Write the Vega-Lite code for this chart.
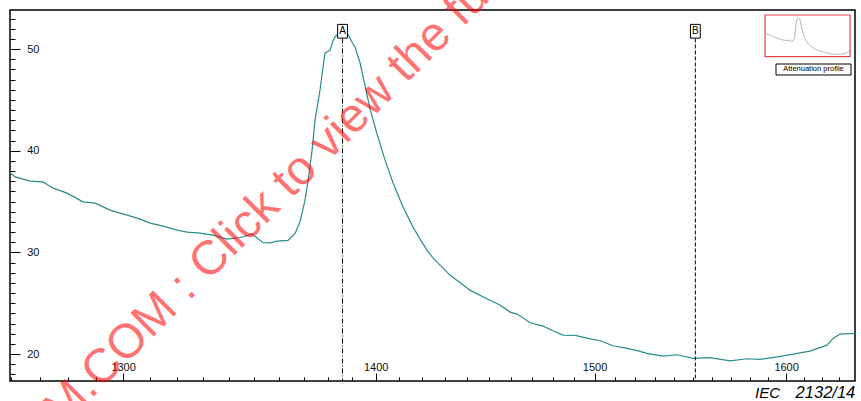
{
  "$schema": "https://vega.github.io/schema/vega-lite/v6.json",
  "width": 845,
  "height": 371,
  "autosize": "none",
  "padding": {"left": 10, "top": 10, "right": 6, "bottom": 20},
  "background": "white",
  "config": {
    "view": {"stroke": "#000", "strokeWidth": 1.5},
    "axis": {"grid": false, "domain": false, "tickColor": "#000", "tickWidth": 1, "labelFont": "Liberation Sans", "labelFontSize": 11, "labelColor": "#111", "title": null, "format": "d"}
  },
  "datasets": {
    "trace": [
      {"wl": 1259.7, "db": 37.83}, {"wl": 1261.5, "db": 37.43}, {"wl": 1266.7, "db": 37.01}, {"wl": 1271.2, "db": 36.94},
      {"wl": 1274.8, "db": 36.32}, {"wl": 1279.7, "db": 35.83}, {"wl": 1285.4, "db": 34.98}, {"wl": 1289.8, "db": 34.85},
      {"wl": 1295.2, "db": 34.16}, {"wl": 1301.5, "db": 33.67}, {"wl": 1306.3, "db": 33.27}, {"wl": 1310.0, "db": 32.88},
      {"wl": 1314.9, "db": 32.59}, {"wl": 1320.2, "db": 32.19}, {"wl": 1324.0, "db": 32.0}, {"wl": 1328.9, "db": 31.9},
      {"wl": 1333.9, "db": 31.7}, {"wl": 1339.4, "db": 31.31}, {"wl": 1344.5, "db": 31.47}, {"wl": 1349.2, "db": 31.8},
      {"wl": 1353.6, "db": 30.96}, {"wl": 1356.4, "db": 30.94}, {"wl": 1359.2, "db": 31.11}, {"wl": 1363.6, "db": 31.18},
      {"wl": 1366.5, "db": 31.9}, {"wl": 1368.5, "db": 33.08}, {"wl": 1370.5, "db": 35.14}, {"wl": 1371.8, "db": 37.11},
      {"wl": 1373.4, "db": 40.06}, {"wl": 1374.6, "db": 43.01}, {"wl": 1376.7, "db": 46.06}, {"wl": 1378.7, "db": 49.6},
      {"wl": 1380.0, "db": 49.79}, {"wl": 1380.8, "db": 49.89}, {"wl": 1382.1, "db": 50.88}, {"wl": 1382.9, "db": 51.22},
      {"wl": 1384.1, "db": 51.47}, {"wl": 1386.2, "db": 51.69}, {"wl": 1388.3, "db": 51.47}, {"wl": 1390.0, "db": 50.68},
      {"wl": 1391.3, "db": 50.19}, {"wl": 1393.4, "db": 48.61}, {"wl": 1395.5, "db": 46.35}, {"wl": 1397.6, "db": 44.09},
      {"wl": 1400.6, "db": 41.63}, {"wl": 1404.0, "db": 39.08}, {"wl": 1407.5, "db": 36.81}, {"wl": 1411.8, "db": 34.45},
      {"wl": 1416.1, "db": 32.49}, {"wl": 1419.2, "db": 31.31}, {"wl": 1422.2, "db": 30.23}, {"wl": 1424.9, "db": 29.44},
      {"wl": 1432.4, "db": 27.77}, {"wl": 1441.4, "db": 26.29}, {"wl": 1449.2, "db": 25.41}, {"wl": 1455.1, "db": 24.82},
      {"wl": 1459.7, "db": 24.13}, {"wl": 1463.0, "db": 23.93}, {"wl": 1469.1, "db": 23.08}, {"wl": 1475.2, "db": 22.75},
      {"wl": 1479.9, "db": 22.29}, {"wl": 1484.7, "db": 21.87}, {"wl": 1490.5, "db": 21.84}, {"wl": 1496.3, "db": 21.57},
      {"wl": 1502.7, "db": 21.31}, {"wl": 1509.1, "db": 20.82}, {"wl": 1516.1, "db": 20.56}, {"wl": 1521.6, "db": 20.32},
      {"wl": 1526.1, "db": 20.07}, {"wl": 1534.3, "db": 19.8}, {"wl": 1541.5, "db": 19.93}, {"wl": 1549.8, "db": 19.58},
      {"wl": 1558.7, "db": 19.64}, {"wl": 1569.4, "db": 19.34}, {"wl": 1578.5, "db": 19.54}, {"wl": 1585.6, "db": 19.48},
      {"wl": 1595.0, "db": 19.73}, {"wl": 1603.9, "db": 20.0}, {"wl": 1613.4, "db": 20.29}, {"wl": 1623.1, "db": 20.88},
      {"wl": 1626.6, "db": 21.54}, {"wl": 1630.6, "db": 21.97}, {"wl": 1639.3, "db": 22.04}
    ],
    "markers": [
      {"wl": 1386, "label": "A"},
      {"wl": 1551, "label": "B"}
    ]
  },
  "layer": [
    {
      "layer": [
        {
          "data": {"name": "trace"},
          "mark": {"type": "line", "color": "#2a8c8c", "strokeWidth": 1.2},
          "encoding": {
            "x": {"field": "wl", "type": "quantitative", "scale": {"type": "pow", "exponent": -1, "domain": [1259.7, 1639.3], "zero": false, "nice": false},
                  "axis": {"orient": "bottom", "values": [1300, 1400, 1500, 1600], "tickSize": -8, "labelPadding": -3, "labelBaseline": "alphabetic", "labelFlush": false}},
            "y": {"field": "db", "type": "quantitative", "scale": {"domain": [17.35, 53.85], "zero": false, "nice": false},
                  "axis": {"orient": "left", "values": [20, 30, 40, 50], "tickSize": -10, "labelPadding": -6.7, "labelAlign": "left", "labelBaseline": "middle", "labelFlush": false}}
          }
        },
        {
          "data": {"name": "markers"},
          "mark": {"type": "rule", "color": "#000", "strokeWidth": 1},
          "encoding": {
            "x": {"field": "wl", "type": "quantitative",
                  "axis": {"orient": "bottom", "values": [1260,1270,1280,1290,1310,1320,1330,1340,1350,1360,1370,1380,1390,1410,1420,1430,1440,1450,1460,1470,1480,1490,1510,1520,1530,1540,1550,1560,1570,1580,1590,1610,1620,1630], "tickSize": -4, "labels": false}},
            "y": {"datum": 51.05, "type": "quantitative",
                  "axis": {"orient": "left", "values": [18,19,21,22,23,24,25,26,27,28,29,31,32,33,34,35,36,37,38,39,41,42,43,44,45,46,47,48,49,51,52,53], "tickSize": -5, "labels": false}},
            "y2": {"datum": 17.35},
            "strokeDash": {"field": "label", "type": "nominal", "scale": {"domain": ["A", "B"], "range": [[5, 2, 1, 2], [4, 2]]}, "legend": null}
          }
        },
        {
          "data": {"name": "markers"},
          "mark": {"type": "point", "shape": "M-1,-1.4H1V1.4H-1Z", "size": 96, "filled": true, "fill": "#fff", "stroke": "#000", "strokeWidth": 1, "opacity": 1},
          "encoding": {
            "x": {"field": "wl", "type": "quantitative", "axis": null},
            "y": {"datum": 51.76, "type": "quantitative", "axis": null}
          }
        },
        {
          "data": {"name": "markers"},
          "mark": {"type": "text", "font": "Liberation Sans", "fontSize": 10, "baseline": "middle", "align": "center", "color": "#000"},
          "encoding": {
            "x": {"field": "wl", "type": "quantitative", "axis": null},
            "y": {"datum": 51.76, "type": "quantitative", "axis": null},
            "text": {"field": "label"}
          }
        },
        {
          "data": {"values": [{"t": "IEC"}]},
          "mark": {"type": "text", "font": "Liberation Sans", "fontSize": 15, "fontStyle": "italic", "align": "left", "baseline": "alphabetic", "color": "#000"},
          "encoding": {
            "x": {"datum": 1582.9, "type": "quantitative", "axis": null},
            "y": {"datum": 15.67, "type": "quantitative", "axis": null},
            "text": {"field": "t"}
          }
        },
        {
          "data": {"values": [{"t": "2132/14"}]},
          "mark": {"type": "text", "font": "Liberation Sans", "fontSize": 16.5, "fontStyle": "italic", "align": "left", "baseline": "alphabetic", "color": "#000"},
          "encoding": {
            "x": {"datum": 1605.3, "type": "quantitative", "axis": null},
            "y": {"datum": 15.67, "type": "quantitative", "axis": null},
            "text": {"field": "t"}
          }
        },
        {
          "data": {"values": [{"t": "IECNORM.COM :"}]},
          "mark": {"type": "text", "font": "Liberation Sans", "fontSize": 48, "angle": -45, "align": "right", "baseline": "alphabetic", "dx": -14, "color": "#ff0000", "opacity": 0.55},
          "encoding": {
            "x": {"datum": 1332.0, "type": "quantitative", "axis": null},
            "y": {"datum": 27.08, "type": "quantitative", "axis": null},
            "text": {"field": "t"}
          }
        },
        {
          "data": {"values": [{"t": "Click to view the full PDF of IEC 61746-2:2010"}]},
          "mark": {"type": "text", "font": "Liberation Sans", "fontSize": 48, "angle": -45, "align": "left", "baseline": "alphabetic", "color": "#ff0000", "opacity": 0.55},
          "encoding": {
            "x": {"datum": 1332.0, "type": "quantitative", "axis": null},
            "y": {"datum": 27.08, "type": "quantitative", "axis": null},
            "text": {"field": "t"}
          }
        }
      ],
      "resolve": {"axis": {"x": "independent", "y": "independent"}}
    },
    {
      "layer": [
        {
          "data": {"name": "trace"},
          "mark": {"type": "line", "color": "#b4b4b4", "strokeWidth": 1},
          "encoding": {
            "x": {"field": "wl", "type": "quantitative", "scale": {"type": "pow", "exponent": -1, "domain": [1259.7, 1639.3], "range": [755, 840], "zero": false, "nice": false}, "axis": null},
            "y": {"field": "db", "type": "quantitative", "scale": {"domain": [17.35, 53.85], "range": [46.7, 5], "zero": false, "nice": false}, "axis": null}
          }
        },
        {
          "data": {"values": [{}]},
          "mark": {"type": "rect", "fill": null, "fillOpacity": 0, "stroke": "#e04848", "strokeWidth": 1.2},
          "encoding": {
            "x": {"datum": 1259.7, "type": "quantitative"},
            "x2": {"datum": 1639.3},
            "y": {"datum": 17.35, "type": "quantitative"},
            "y2": {"datum": 53.85}
          }
        },
        {
          "data": {"values": [{}]},
          "mark": {"type": "rect", "fill": "#fff", "stroke": "#000", "strokeWidth": 1},
          "encoding": {
            "x": {"datum": 1298.6, "type": "quantitative"},
            "x2": {"datum": 1645.2},
            "y": {"datum": 10.96, "type": "quantitative"},
            "y2": {"datum": 1.33}
          }
        },
        {
          "data": {"values": [{"t": "Attenuation profile"}]},
          "mark": {"type": "text", "font": "Liberation Sans", "fontSize": 7.5, "align": "center", "baseline": "middle", "color": "#000"},
          "encoding": {
            "x": {"datum": 1451.5, "type": "quantitative"},
            "y": {"datum": 6.15, "type": "quantitative"},
            "text": {"field": "t"}
          }
        }
      ]
    }
  ],
  "resolve": {"scale": {"x": "independent", "y": "independent"}, "axis": {"x": "independent", "y": "independent"}}
}
